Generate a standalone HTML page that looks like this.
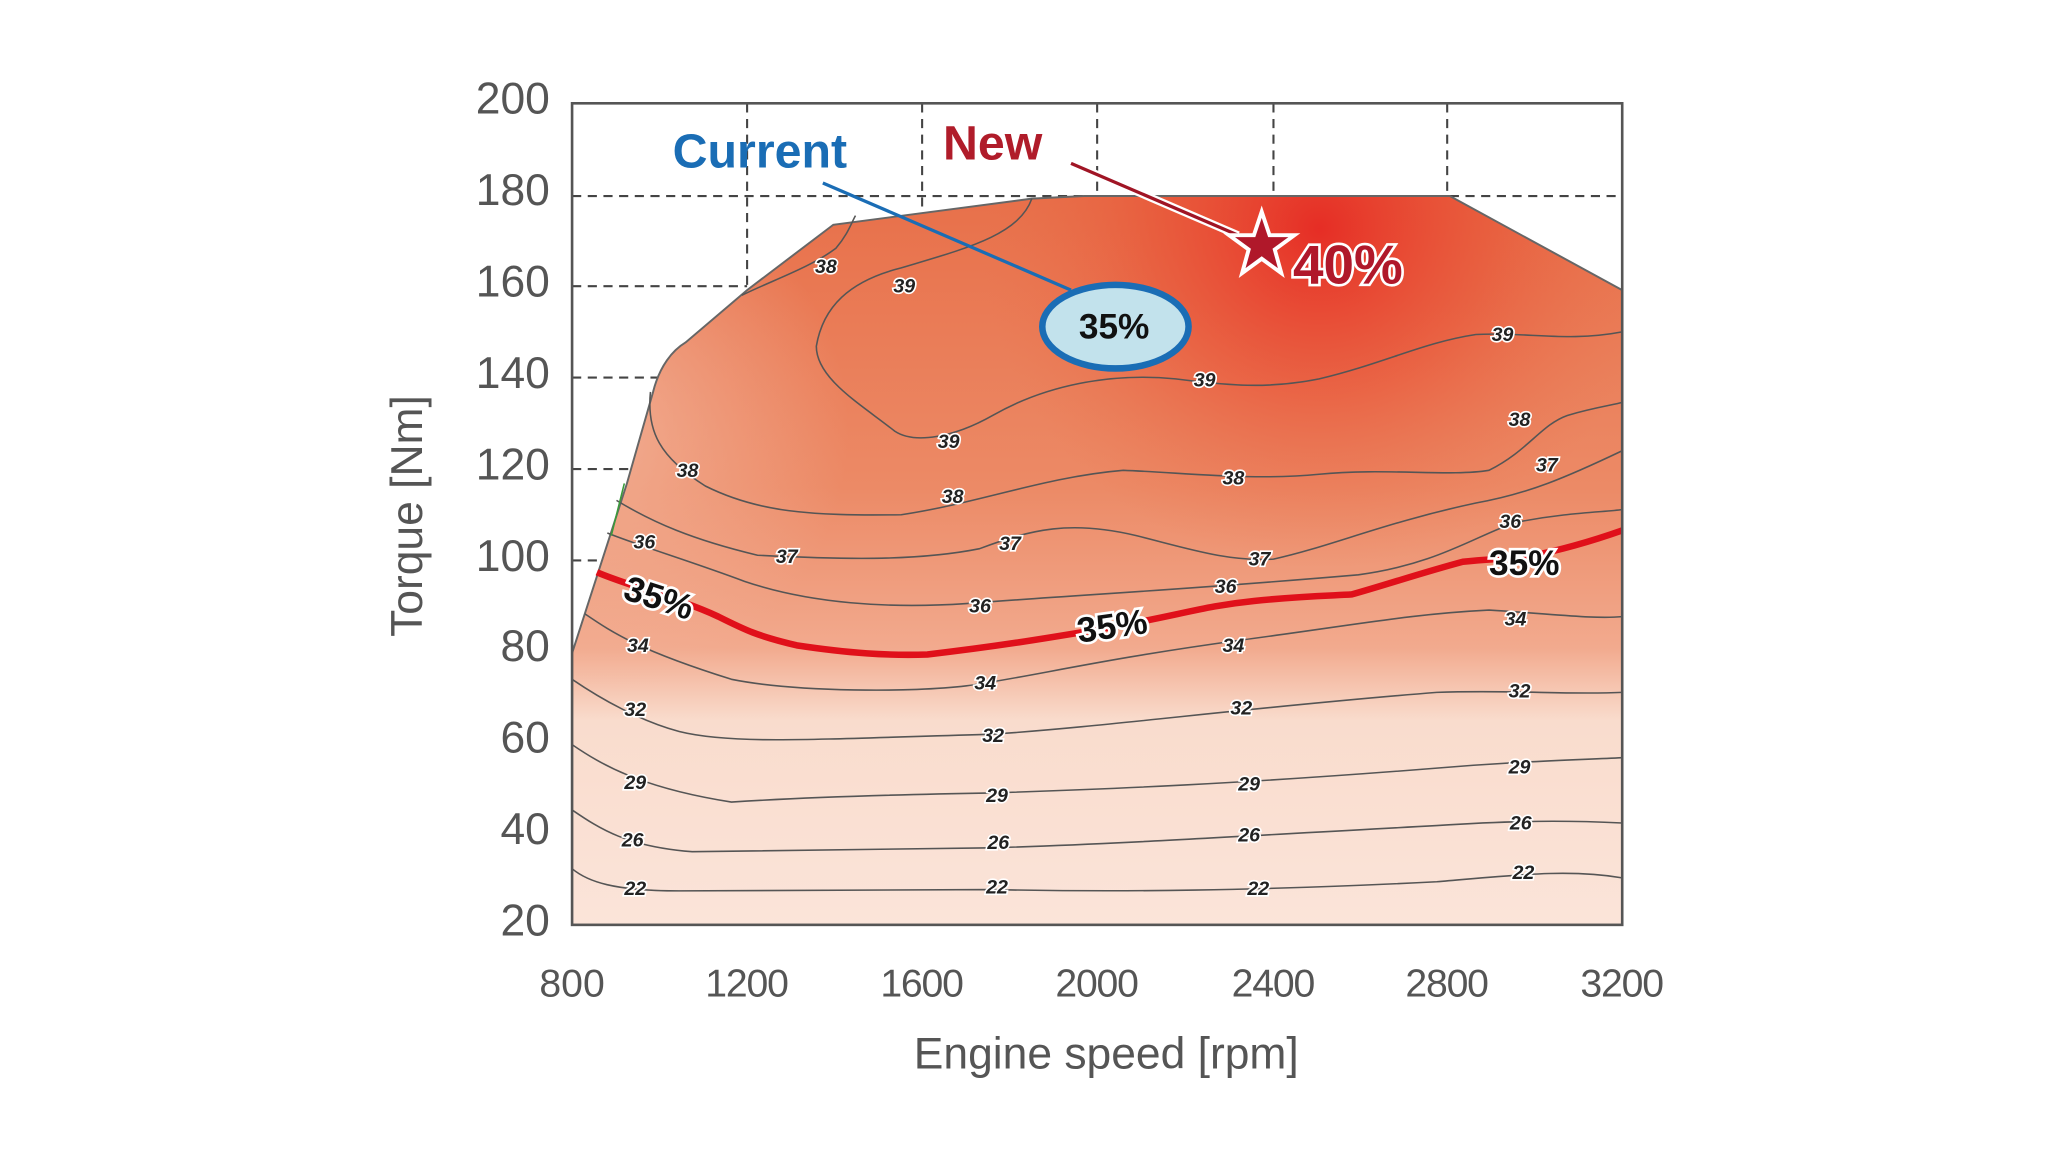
<!DOCTYPE html>
<html><head><meta charset="utf-8"><style>
html,body{margin:0;padding:0;background:#fff;}
svg{display:block;}
text{font-family:"Liberation Sans",sans-serif;}
.t{font-size:32px;fill:#555;}
.c{font-size:15px;font-weight:bold;font-style:italic;fill:#222;stroke:#fff;stroke-width:2.5px;paint-order:stroke;}
.k{fill:none;stroke:#555;stroke-width:1.2;}
.p{font-size:27px;font-weight:bold;fill:#111;stroke:#fff;stroke-width:4px;paint-order:stroke;}
</style></head><body>
<svg width="2048" height="1164" viewBox="0 0 1568 891" xmlns="http://www.w3.org/2000/svg">
<defs>
<linearGradient id="v" gradientUnits="userSpaceOnUse" x1="0" y1="150" x2="0" y2="708">
<stop offset="0" stop-color="#e8704a"/>
<stop offset="0.4" stop-color="#ec8a66"/>
<stop offset="0.62" stop-color="#f2aa8e"/>
<stop offset="0.72" stop-color="#f9dccd"/>
<stop offset="1" stop-color="#fbe4d9"/>
</linearGradient>
<radialGradient id="r" gradientUnits="userSpaceOnUse" cx="1010" cy="175" r="260">
<stop offset="0" stop-color="#e62d25" stop-opacity="1"/>
<stop offset="0.5" stop-color="#e84a30" stop-opacity="0.5"/>
<stop offset="1" stop-color="#e8704a" stop-opacity="0"/>
</radialGradient>
<radialGradient id="l" gradientUnits="userSpaceOnUse" cx="450" cy="330" r="200">
<stop offset="0" stop-color="#f3b79e" stop-opacity="0.8"/>
<stop offset="1" stop-color="#f3b79e" stop-opacity="0"/>
</radialGradient>
</defs>
<g stroke="#444" stroke-width="1.6" stroke-dasharray="7,5" fill="none">
<line x1="572" y1="79" x2="572" y2="230"/><line x1="706" y1="79" x2="706" y2="160"/>
<line x1="840" y1="79" x2="840" y2="152"/><line x1="975" y1="79" x2="975" y2="152"/>
<line x1="1108" y1="79" x2="1108" y2="152"/>
<line x1="438" y1="150" x2="1242" y2="150"/><line x1="438" y1="219" x2="572" y2="219"/>
<line x1="438" y1="289" x2="505" y2="289"/><line x1="438" y1="359" x2="485" y2="359"/>
<line x1="438" y1="429" x2="462" y2="429"/>
</g>
<path d="M438,500 L480,370 L500,300 C505,280 515,268 525,262 L572,222 L638,172 L790,152 L830,150 L1110,150 L1242,222 L1242,708 L438,708 Z" fill="url(#v)"/>
<path d="M438,500 L480,370 L500,300 C505,280 515,268 525,262 L572,222 L638,172 L790,152 L830,150 L1110,150 L1242,222 L1242,708 L438,708 Z" fill="url(#r)"/>
<path d="M438,500 L480,370 L500,300 C505,280 515,268 525,262 L572,222 L638,172 L790,152 L830,150 L1110,150 L1242,222 L1242,708 L438,708 Z" fill="url(#l)"/>
<path d="M438,500 L480,370 L500,300 C505,280 515,268 525,262 L572,222 L638,172 L790,152 L830,150 L1110,150 L1242,222" fill="none" stroke="#666" stroke-width="1.5"/>
<g class="k">
<path d="M438,665 C450,675 470,682 520,682 L760,681 C860,683 960,682 1100,675 C1160,670 1200,665 1242,672"/>
<path d="M438,620 C460,635 480,648 530,652 L760,649 C860,646 950,640 1100,632 C1160,628 1200,628 1242,630"/>
<path d="M438,570 C460,585 490,603 560,614 C620,610 700,608 760,607 C850,604 950,600 1100,588 C1160,583 1200,582 1242,580"/>
<path d="M438,520 C460,535 490,552 520,560 C560,570 620,566 760,562 C850,556 950,542 1100,530 C1160,528 1200,532 1242,530"/>
<path d="M448,470 C470,485 490,498 560,520 C610,530 700,530 740,525 C790,518 840,505 950,490 C1040,478 1080,470 1140,467 C1190,470 1220,474 1242,472"/>
<path d="M465,408 C490,418 530,430 570,445 C620,462 680,466 740,462 C830,455 900,452 1040,440 C1100,432 1130,410 1160,400 C1200,392 1230,392 1242,390"/>
<path d="M472,383 C500,400 530,413 580,425 C640,428 700,430 750,420 C790,405 820,398 870,410 C910,420 940,430 975,428 C1020,418 1060,400 1130,385 C1170,378 1200,365 1242,345"/>
<path d="M498,300 C495,330 505,350 540,372 C580,392 620,395 690,394 C750,385 800,365 860,360 C910,362 960,368 1010,363 C1060,358 1110,365 1140,360 C1170,345 1180,325 1200,318 C1220,312 1235,310 1242,308"/>
<path d="M568,226 C590,215 620,205 640,190 C650,178 652,170 655,165"/>
<path d="M790,152 C780,180 740,190 690,205 C650,215 630,235 625,265 C625,290 660,310 685,330 C700,340 730,335 760,318 C800,295 850,285 900,290 C940,295 970,298 1010,290 C1060,278 1090,262 1130,256 C1170,254 1200,262 1242,254"/>
</g>
<path d="M457,438 C480,448 520,458 550,472 C570,482 580,487 610,494 C650,500 680,502 710,501 C770,494 810,487 840,482 C900,472 920,464 960,460 C1000,456 1020,456 1035,455 C1060,448 1090,438 1120,430 C1140,428 1150,428 1170,426 C1200,420 1225,412 1242,406" fill="none" stroke="#e0101a" stroke-width="5"/>
<path d="M478,370 L468,410 M1242,330 L1242,360" stroke="#3a9a3a" stroke-width="1.2"/>
<g class="c">
<text x="478" y="685">22</text><text x="755" y="684">22</text><text x="955" y="685">22</text><text x="1158" y="673">22</text>
<text x="476" y="648">26</text><text x="756" y="650">26</text><text x="948" y="644">26</text><text x="1156" y="635">26</text>
<text x="478" y="604">29</text><text x="755" y="614">29</text><text x="948" y="605">29</text><text x="1155" y="592">29</text>
<text x="478" y="548">32</text><text x="752" y="568">32</text><text x="942" y="547">32</text><text x="1155" y="534">32</text>
<text x="480" y="499">34</text><text x="746" y="528">34</text><text x="936" y="499">34</text><text x="1152" y="479">34</text>
<text x="485" y="420">36</text><text x="742" y="469">36</text><text x="930" y="454">36</text><text x="1148" y="404">36</text>
<text x="594" y="431">37</text><text x="765" y="421">37</text><text x="956" y="433">37</text><text x="1176" y="361">37</text>
<text x="518" y="365">38</text><text x="721" y="385">38</text><text x="936" y="371">38</text><text x="1155" y="326">38</text><text x="624" y="209">38</text>
<text x="684" y="224">39</text><text x="718" y="343">39</text><text x="914" y="296">39</text><text x="1142" y="261">39</text>
</g>
<text class="p" transform="translate(476,458) rotate(18)">35%</text>
<text class="p" transform="translate(826,492) rotate(-8)">35%</text>
<text class="p" x="1140" y="440">35%</text>
<rect x="438" y="79" width="804" height="629" fill="none" stroke="#555" stroke-width="2"/>
<line x1="630" y1="140" x2="820" y2="222" stroke="#1a6db5" stroke-width="2.5"/>
<ellipse cx="854" cy="250" rx="56" ry="32" fill="#c2e2ec" stroke="#1a6db5" stroke-width="5"/>
<text x="826" y="259" style="font-size:27px;font-weight:bold;fill:#111">35%</text>
<text x="515" y="128" style="font-size:37px;font-weight:bold;fill:#1a6db5">Current</text>
<text x="722" y="122" style="font-size:37px;font-weight:bold;fill:#b01c2a">New</text>
<line x1="820" y1="125" x2="948" y2="180" stroke="#fff" stroke-width="6"/>
<line x1="820" y1="125" x2="948" y2="180" stroke="#a01525" stroke-width="2.5"/>
<polygon points="966,162 972,180 991,180 976,191 981,209 966,198 951,209 956,191 941,180 960,180" fill="#b0182a" stroke="#fff" stroke-width="3"/>
<text x="990" y="217" style="font-size:42px;font-weight:bold;fill:#b0182a;stroke:#fff;stroke-width:4px;paint-order:stroke">40%</text>
<g class="t" text-anchor="end" style="font-size:34px">
<text x="421" y="87">200</text><text x="421" y="157">180</text><text x="421" y="227">160</text>
<text x="421" y="297">140</text><text x="421" y="367">120</text><text x="421" y="437">100</text>
<text x="421" y="506">80</text><text x="421" y="576">60</text><text x="421" y="646">40</text><text x="421" y="716">20</text>
</g>
<g class="t" text-anchor="middle" style="font-size:30px">
<text x="438" y="763" textLength="50">800</text><text x="572" y="763" textLength="64">1200</text><text x="706" y="763" textLength="64">1600</text>
<text x="840" y="763" textLength="64">2000</text><text x="975" y="763" textLength="64">2400</text><text x="1108" y="763" textLength="64">2800</text><text x="1242" y="763" textLength="64">3200</text>
</g>
<text class="t" x="847" y="818" text-anchor="middle" style="font-size:34px">Engine speed [rpm]</text>
<text class="t" transform="translate(323,395) rotate(-90)" text-anchor="middle" style="font-size:34px">Torque [Nm]</text>
</svg>
</body></html>
